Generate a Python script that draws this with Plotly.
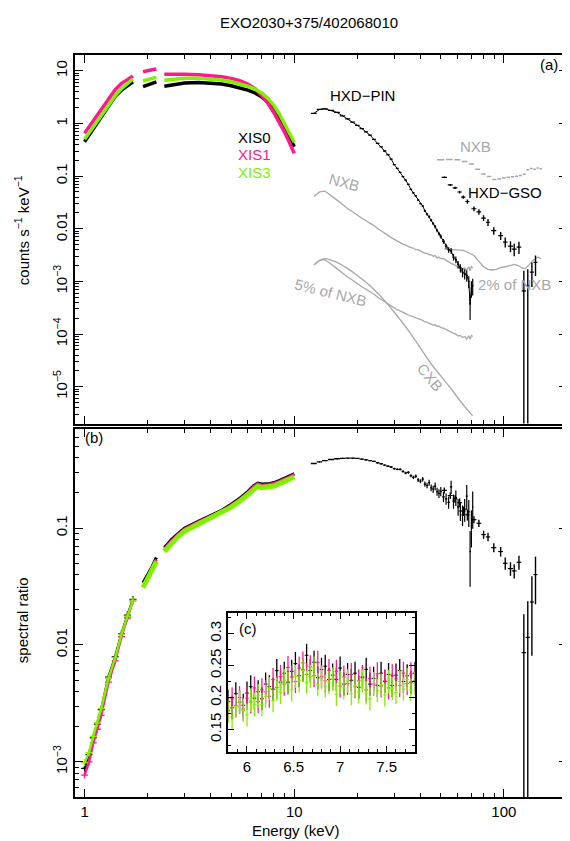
import numpy as np
import plotly.graph_objects as go

# ---------------- data ----------------
# XIS spectra, counts s^-1 keV^-1
XIS_E1 = [1.0, 1.05, 1.1, 1.15, 1.2, 1.3, 1.4, 1.5, 1.6, 1.7]
XIS0_F1 = [0.45, 0.6, 0.8, 1.05, 1.3, 2.1, 3.3, 4.3, 5.3, 6.2]
XIS1_F1 = [0.65, 0.85, 1.1, 1.45, 1.85, 2.9, 4.4, 5.8, 6.8, 8.0]
XIS3_F1 = [0.5, 0.65, 0.85, 1.1, 1.4, 2.2, 3.4, 4.6, 5.6, 7.0]
XIS_E2 = [1.9, 2.0, 2.1, 2.2]
XIS0_F2 = [5.0, 5.4, 5.8, 6.2]
XIS1_F2 = [9.6, 10.2, 10.5, 10.8]
XIS3_F2 = [6.4, 6.9, 7.2, 7.6]
XIS_E3 = [2.4, 2.6, 2.8, 3.0, 3.5, 4.0, 4.5, 5.0, 5.5, 6.0, 6.5, 7.0, 7.5, 8.0, 8.5, 9.0, 9.5, 10.0]
XIS0_F3 = [5.1, 5.4, 5.7, 5.9, 6.0, 5.9, 5.6, 5.2, 4.8, 4.3, 3.8, 3.2, 2.5, 1.8, 1.2, 0.82, 0.55, 0.36]
XIS1_F3 = [8.6, 8.7, 8.7, 8.6, 8.4, 8.1, 7.7, 7.2, 6.5, 5.6, 4.6, 3.4, 2.4, 1.6, 1.05, 0.68, 0.43, 0.27]
XIS3_F3 = [6.6, 6.9, 7.1, 7.2, 7.2, 7.0, 6.7, 6.2, 5.7, 5.1, 4.5, 3.8, 3.0, 2.2, 1.5, 1.0, 0.66, 0.44]

# XIS spectral ratios
XIS0_R1 = [8.8e-4, 1.15e-3, 1.6e-3, 2.1e-3, 2.8e-3, 5.3e-3, 7.9e-3, 0.0125, 0.018, 0.0245]
XIS1_R1 = [7.7e-4, 1.0e-3, 1.45e-3, 1.9e-3, 2.5e-3, 4.8e-3, 7.3e-3, 0.0118, 0.017, 0.0238]
XIS3_R1 = [9.8e-4, 1.2e-3, 1.65e-3, 2.15e-3, 2.85e-3, 5.2e-3, 7.8e-3, 0.0124, 0.0176, 0.0242]
XIS0_R2 = [0.034, 0.040, 0.047, 0.056]
XIS1_R2 = [0.032, 0.038, 0.045, 0.054]
XIS3_R2 = [0.031, 0.037, 0.044, 0.052]
XIS_RE3 = [2.4, 2.6, 2.8, 3.0, 3.5, 4.0, 4.5, 5.0, 5.5, 6.0, 6.4, 6.7, 7.0, 7.5, 8.0, 8.5, 9.0, 9.5, 10.0]
XIS0_R3 = [0.068, 0.080, 0.090, 0.100, 0.115, 0.128, 0.142, 0.160, 0.180, 0.205, 0.230, 0.243, 0.238, 0.239, 0.245, 0.256, 0.266, 0.280, 0.292]
XIS1_R3 = [0.066, 0.078, 0.088, 0.098, 0.113, 0.126, 0.139, 0.157, 0.176, 0.200, 0.226, 0.239, 0.233, 0.235, 0.241, 0.251, 0.261, 0.274, 0.286]
XIS3_R3 = [0.063, 0.075, 0.085, 0.094, 0.108, 0.121, 0.134, 0.151, 0.170, 0.193, 0.217, 0.228, 0.222, 0.223, 0.229, 0.240, 0.250, 0.262, 0.274]

# HXD-PIN
PIN_E = [12.4, 13.2, 14.0, 15.0, 16.0, 17.0, 18.0, 19.0, 20.0, 21.0, 22.0, 23.0, 24.0, 25.0,
         26.0, 27.0, 28.0, 29.0, 30.0, 31.0, 32.0, 33.0, 34.0, 35.0, 36.0, 37.0, 38.0, 39.0,
         40.0, 41.0, 42.0, 43.0, 44.0, 45.0, 46.0, 47.0, 48.0, 49.0, 50.0, 51.5, 53.0, 54.5,
         56.0, 57.5, 59.0, 60.5, 62.0, 63.5, 65.0, 66.5, 68.0, 69.0, 70.0, 71.0]
PIN_FLUX = [1.55, 1.85, 1.90, 1.78, 1.62, 1.40, 1.22, 1.06, 0.92, 0.80, 0.69, 0.60, 0.50, 0.42,
            0.36, 0.30, 0.255, 0.21, 0.165, 0.14, 0.118, 0.098, 0.084, 0.070, 0.056, 0.048, 0.042, 0.035,
            0.030, 0.027, 0.022, 0.019, 0.017, 0.0145, 0.0125, 0.011, 0.0093, 0.0081, 0.0072, 0.0058, 0.0047, 0.0040,
            0.0038, 0.0029, 0.0026, 0.0021, 0.0018, 0.0015, 0.0014, 0.0013, 0.0010, 0.00037, 0.00075, 0.00083]
PIN_RATIO = [0.357, 0.368, 0.378, 0.386, 0.392, 0.395, 0.396, 0.396, 0.394, 0.389, 0.384, 0.378, 0.372, 0.362,
             0.355, 0.345, 0.338, 0.333, 0.322, 0.318, 0.318, 0.305, 0.296, 0.300, 0.281, 0.272, 0.278, 0.258,
             0.252, 0.262, 0.238, 0.232, 0.245, 0.221, 0.215, 0.228, 0.205, 0.198, 0.206, 0.185, 0.178, 0.166,
             0.225, 0.170, 0.182, 0.152, 0.140, 0.130, 0.145, 0.188, 0.138, 0.063, 0.105, 0.152]
PIN_RELERR = [0.01, 0.01, 0.01, 0.01, 0.01, 0.01, 0.01, 0.01, 0.01, 0.01, 0.012, 0.012, 0.012, 0.014,
              0.014, 0.016, 0.016, 0.018, 0.02, 0.02, 0.022, 0.025, 0.025, 0.028, 0.03, 0.032, 0.035, 0.038,
              0.04, 0.045, 0.05, 0.055, 0.06, 0.065, 0.07, 0.075, 0.08, 0.085, 0.09, 0.1, 0.11, 0.12,
              0.13, 0.14, 0.15, 0.16, 0.18, 0.2, 0.22, 0.24, 0.26, 0.5, 0.35, 0.35]
PIN_NXB = [0.041, 0.050, 0.052, 0.043, 0.035, 0.029, 0.024, 0.021, 0.018, 0.0158, 0.0142, 0.0128, 0.0115, 0.0101,
           0.0092, 0.0082, 0.0075, 0.0068, 0.0063, 0.0058, 0.0055, 0.0051, 0.0049, 0.0046, 0.0044, 0.0043, 0.0040, 0.0040,
           0.0038, 0.0037, 0.0034, 0.0034, 0.0032, 0.0032, 0.0030, 0.0031, 0.0028, 0.0029, 0.0027, 0.0027, 0.0025, 0.0024,
           0.0022, 0.0021, 0.0020, 0.0018, 0.0019, 0.0017, 0.0018, 0.0016, 0.0019, 0.0016, 0.0019, 0.0018]
PIN_NXB5 = [0.00205, 0.0025, 0.0026, 0.00215, 0.00175, 0.00145, 0.0012, 0.00105, 0.0009, 0.00079, 0.00071, 0.00064, 0.00057, 0.0005,
            0.00046, 0.00041, 0.000375, 0.00034, 0.000315, 0.00029, 0.000275, 0.000255, 0.000245, 0.00023, 0.00022, 0.000212, 0.0002, 0.000198,
            0.00019, 0.000182, 0.00017, 0.000168, 0.00016, 0.000155, 0.000148, 0.00015, 0.00014, 0.000142, 0.000133, 0.00013, 0.000122, 0.000118,
            0.00011, 0.000103, 0.0001, 0.000092, 0.000094, 0.000086, 0.00009, 0.00008, 0.000093, 0.00008, 0.000094, 0.00009]
CXB_E = [12.5, 13.2, 14, 15, 16, 18, 20, 22, 24, 27, 30, 35, 40, 45, 50, 55, 60, 65, 71]
CXB = [2.1e-3, 2.5e-3, 2.7e-3, 2.55e-3, 2.3e-3, 1.75e-3, 1.3e-3, 9.6e-4, 7.0e-4, 4.3e-4, 2.6e-4, 1.17e-4,
       5.4e-5, 2.7e-5, 1.6e-5, 1.0e-5, 6.3e-6, 4.2e-6, 2.8e-6]

# HXD-GSO
GSO_E = [52, 55.5, 58.5, 61.5, 64, 67, 72, 76, 80, 84, 89.5, 96.5, 101.5, 107.5, 112, 118, 124.5, 130, 136, 141.5]
GSO_DE = [1.5, 1.5, 1.5, 1.5, 1.5, 1.5, 2, 2, 2, 2, 2.5, 2.5, 2.5, 3, 3, 3, 3, 3, 3, 3]
GSO_FLUX = [0.095, 0.068, 0.060, 0.050, 0.040, 0.033, 0.024, 0.021, 0.016, 0.0133, 0.0092, 0.0074, 0.0056, 0.0047,
            0.0041, 0.0045, 0.00066, 0.00083, 0.0015, 0.0023]
GSO_FLUX_UP = [0.003, 0.003, 0.003, 0.003, 0.003, 0.003, 0.0025, 0.0025, 0.002, 0.002, 0.0015, 0.0013, 0.0012, 0.0011,
               0.0011, 0.0012, 0.00094, 0.00087, 0.0008, 0.0008]
GSO_FLUX_DN = [0.003, 0.003, 0.003, 0.003, 0.003, 0.003, 0.0025, 0.0025, 0.002, 0.002, 0.0015, 0.0013, 0.0012, 0.0011,
               0.0011, 0.0012, 0.0006599, 0.0008299, 0.00072, 0.00103]
GSO_RATIO = [0.21, 0.19, 0.178, 0.165, 0.14, 0.13, 0.118, 0.110, 0.088, 0.084, 0.068, 0.063, 0.050, 0.045,
             0.043, 0.051, 0.0086, 0.0116, 0.0233, 0.040]
GSO_RATIO_UP = [0.012, 0.012, 0.013, 0.014, 0.013, 0.014, 0.008, 0.008, 0.007, 0.007, 0.006, 0.006, 0.006, 0.006,
                0.006, 0.007, 0.0097, 0.0121, 0.0154, 0.017]
GSO_RATIO_DN = [0.012, 0.012, 0.013, 0.014, 0.013, 0.014, 0.008, 0.008, 0.007, 0.007, 0.006, 0.006, 0.006, 0.006,
                0.006, 0.007, 0.0085999, 0.0115999, 0.0152, 0.0177]
GSO_NXB_E = [50, 55, 60, 65, 70, 75, 80, 85, 90, 95, 100, 105, 110, 115, 120, 125, 130, 135, 140, 145, 150]
GSO_NXB = [0.205, 0.208, 0.205, 0.19, 0.17, 0.135, 0.11, 0.098, 0.086, 0.088, 0.092, 0.095, 0.097, 0.100,
           0.103, 0.108, 0.132, 0.14, 0.135, 0.142, 0.138]
GSO_NXB2_E = [52, 56, 60, 64, 68, 72, 76, 80, 84, 88, 92, 97, 102, 107, 112, 117, 122, 126, 131, 136, 141, 146, 150]
GSO_NXB2 = [4.1e-3, 4.05e-3, 4.0e-3, 3.9e-3, 3.5e-3, 3.1e-3, 2.4e-3, 1.9e-3, 1.7e-3, 1.65e-3, 1.7e-3, 1.85e-3,
            1.9e-3, 2.0e-3, 2.1e-3, 2.0e-3, 1.8e-3, 1.75e-3, 2.0e-3, 2.4e-3, 2.7e-3, 2.9e-3, 2.7e-3]

# inset (c): XIS ratio 5.8-7.8 keV
INS_E = [5.80, 5.84, 5.88, 5.92, 5.96, 6.00, 6.04, 6.08, 6.12, 6.16, 6.20, 6.24, 6.28, 6.32, 6.36, 6.40, 6.44,
         6.48, 6.52, 6.56, 6.60, 6.64, 6.68, 6.72, 6.76, 6.80, 6.84, 6.88, 6.92, 6.96, 7.00, 7.04, 7.08, 7.12,
         7.16, 7.20, 7.24, 7.28, 7.32, 7.36, 7.40, 7.44, 7.48, 7.52, 7.56, 7.60, 7.64, 7.68, 7.72, 7.76, 7.80]
INS_XIS0 = [0.194, 0.184, 0.206, 0.193, 0.188, 0.207, 0.217, 0.199, 0.209, 0.198, 0.221, 0.217, 0.213, 0.242, 0.224, 0.238, 0.224,
            0.241, 0.253, 0.234, 0.243, 0.266, 0.242, 0.255, 0.231, 0.244, 0.249, 0.228, 0.235, 0.228, 0.246, 0.221, 0.236, 0.227,
            0.238, 0.216, 0.231, 0.244, 0.221, 0.230, 0.219, 0.238, 0.225, 0.236, 0.219, 0.235, 0.242, 0.225, 0.234, 0.224, 0.238]
INS_XIS1 = [0.180, 0.198, 0.188, 0.200, 0.182, 0.199, 0.193, 0.215, 0.194, 0.212, 0.209, 0.202, 0.228, 0.216, 0.233, 0.221, 0.247,
            0.232, 0.225, 0.246, 0.254, 0.236, 0.248, 0.234, 0.255, 0.233, 0.226, 0.242, 0.229, 0.241, 0.218, 0.232, 0.222, 0.236,
            0.217, 0.226, 0.233, 0.212, 0.230, 0.221, 0.237, 0.218, 0.226, 0.215, 0.234, 0.229, 0.219, 0.238, 0.222, 0.237, 0.226]
INS_XIS3 = [0.178, 0.169, 0.186, 0.193, 0.180, 0.173, 0.196, 0.189, 0.203, 0.189, 0.202, 0.214, 0.195, 0.213, 0.208, 0.227, 0.222,
            0.212, 0.233, 0.226, 0.242, 0.224, 0.233, 0.246, 0.220, 0.231, 0.218, 0.224, 0.229, 0.205, 0.224, 0.215, 0.226, 0.206,
            0.218, 0.209, 0.226, 0.207, 0.198, 0.222, 0.211, 0.220, 0.204, 0.225, 0.214, 0.208, 0.225, 0.213, 0.228, 0.212, 0.222]

# ---------------- styling ----------------
BLACK = "#000000"
PINK = "#ff1a8c"
GREEN = "#80f000"
GRAY = "#a8a8a8"
FONT = "Liberation Sans, Arial, Helvetica, sans-serif"

OFF = 8                     # page offset of the figure inside the browser body
W, H = 562, 833
ML, MR, MT, MB = 75 - OFF, 1, 55 - OFF, 44
PW, PH = W - ML - MR, H - MT - MB


def P(x, y):
    """page pixel -> paper coordinate"""
    return (x - OFF - ML) / PW, (H - MB - (y - OFF)) / PH


fig = go.Figure()

# ---- top panel ----
for E, arrs in [(XIS_E1, (XIS0_F1, XIS1_F1, XIS3_F1)),
                (XIS_E2, (XIS0_F2, XIS1_F2, XIS3_F2)),
                (XIS_E3, (XIS0_F3, XIS1_F3, XIS3_F3))]:
    for vals, col in zip(arrs, (BLACK, PINK, GREEN)):
        fig.add_trace(go.Scatter(x=E, y=vals, mode="lines", line=dict(color=col, width=3.5),
                                 xaxis="x", yaxis="y", hoverinfo="skip"))

fig.add_trace(go.Scatter(x=PIN_E, y=PIN_NXB, mode="lines", line=dict(color=GRAY, width=1.3),
                         xaxis="x", yaxis="y"))
fig.add_trace(go.Scatter(x=PIN_E, y=PIN_NXB5, mode="lines", line=dict(color=GRAY, width=1.3),
                         xaxis="x", yaxis="y"))
fig.add_trace(go.Scatter(x=CXB_E, y=CXB, mode="lines", line=dict(color=GRAY, width=1.3, shape="spline"),
                         xaxis="x", yaxis="y"))
fig.add_trace(go.Scatter(x=GSO_NXB_E, y=GSO_NXB, mode="markers", marker=dict(size=1, color=GRAY),
                         error_x=dict(type="constant", value=2.0, width=0, thickness=1.5, color=GRAY),
                         xaxis="x", yaxis="y"))
fig.add_trace(go.Scatter(x=GSO_NXB2_E, y=GSO_NXB2, mode="lines", line=dict(color=GRAY, width=1.3),
                         xaxis="x", yaxis="y"))

pin_dE = np.gradient(np.array(PIN_E)) / 2
pin_err = np.array(PIN_FLUX) * np.array(PIN_RELERR)
fig.add_trace(go.Scatter(x=PIN_E, y=PIN_FLUX, mode="lines", line=dict(color=BLACK, width=1.0),
                         error_x=dict(type="data", array=pin_dE, width=0, thickness=1.3, color=BLACK),
                         error_y=dict(type="data", array=pin_err, width=0, thickness=1.2, color=BLACK),
                         xaxis="x", yaxis="y"))
fig.add_trace(go.Scatter(x=GSO_E, y=GSO_FLUX, mode="markers", marker=dict(size=1, color=BLACK),
                         error_x=dict(type="data", array=GSO_DE, width=0, thickness=1.2, color=BLACK),
                         error_y=dict(type="data", array=GSO_FLUX_UP, arrayminus=GSO_FLUX_DN, symmetric=False,
                                      width=0, thickness=1.4, color=BLACK),
                         xaxis="x", yaxis="y"))

# ---- bottom panel ----
for vals, col in zip((XIS0_R1, XIS1_R1, XIS3_R1), (BLACK, PINK, GREEN)):
    fig.add_trace(go.Scatter(x=XIS_E1, y=vals, mode="lines+markers", line=dict(color=col, width=2.5),
                             marker=dict(symbol="cross-thin", size=5, line=dict(width=1.3, color=col)),
                             xaxis="x2", yaxis="y2"))
for E, arrs in [(XIS_E2, (XIS0_R2, XIS1_R2, XIS3_R2)), (XIS_RE3, (XIS0_R3, XIS1_R3, XIS3_R3))]:
    for vals, col, w in zip(arrs, (BLACK, PINK, GREEN), (3, 3, 5)):
        fig.add_trace(go.Scatter(x=E, y=vals, mode="lines", line=dict(color=col, width=w),
                                 xaxis="x2", yaxis="y2"))

fig.add_trace(go.Scatter(x=PIN_E, y=PIN_RATIO, mode="markers", marker=dict(size=1, color=BLACK),
                         error_x=dict(type="data", array=pin_dE, width=0, thickness=1.3, color=BLACK),
                         error_y=dict(type="data", array=np.array(PIN_RATIO) * np.array(PIN_RELERR),
                                      width=0, thickness=1.2, color=BLACK),
                         xaxis="x2", yaxis="y2"))
fig.add_trace(go.Scatter(x=GSO_E, y=GSO_RATIO, mode="markers", marker=dict(size=1, color=BLACK),
                         error_x=dict(type="data", array=GSO_DE, width=0, thickness=1.2, color=BLACK),
                         error_y=dict(type="data", array=GSO_RATIO_UP, arrayminus=GSO_RATIO_DN, symmetric=False,
                                      width=0, thickness=1.4, color=BLACK),
                         xaxis="x2", yaxis="y2"))

# ---- inset ----
for vals, col in zip((INS_XIS0, INS_XIS1, INS_XIS3), (BLACK, PINK, GREEN)):
    fig.add_trace(go.Scatter(x=INS_E, y=vals, mode="markers", marker=dict(size=1, color=col),
                             error_x=dict(type="constant", value=0.02, width=0, thickness=1, color=col),
                             error_y=dict(type="constant", value=0.018, width=0, thickness=1.3, color=col),
                             xaxis="x3", yaxis="y3"))


# ---------------- axes ----------------
def log_minor(lo, hi):
    out = []
    for d in range(lo, hi + 1):
        for m in range(2, 10):
            out.append(m * 10.0 ** d)
    return out


common = dict(showgrid=False, zeroline=False, showline=True, linecolor="black", linewidth=1.5,
              ticks="inside", tickcolor="black", tickwidth=1.2, mirror="allticks",
              tickfont=dict(family=FONT, size=15, color="black"))

xlog = dict(type="log", range=[np.log10(0.9), np.log10(200)], tickvals=[1, 10, 100],
            ticktext=["1", "10", "100"], ticklen=8,
            minor=dict(tickmode="array", tickvals=log_minor(0, 2), ticks="inside", ticklen=4,
                       tickwidth=1, tickcolor="black", showgrid=False))

top_lo = P(0, 423.5)[1]
bot_hi = P(0, 429.3)[1]

fig.update_layout(
    xaxis=dict(**common, **xlog, domain=[0, 1], anchor="y", showticklabels=False),
    yaxis=dict(**common, type="log", range=[np.log10(2e-6), np.log10(20)], domain=[top_lo, 1.0], anchor="x",
               tickvals=[1e-5, 1e-4, 1e-3, 0.01, 0.1, 1, 10],
               ticktext=["10<sup>−5</sup>", "10<sup>−4</sup>", "10<sup>−3</sup>", "0.01", "0.1", "1", "10"],
               tickangle=-90, ticklen=8,
               minor=dict(tickmode="array", tickvals=log_minor(-6, 1), ticks="inside", ticklen=4,
                          tickwidth=1, tickcolor="black", showgrid=False)),
    xaxis2=dict(**common, **xlog, domain=[0, 1], anchor="y2"),
    yaxis2=dict(**common, type="log", range=[np.log10(5e-4), np.log10(0.7)], domain=[0.0, bot_hi], anchor="x2",
                tickvals=[1e-3, 0.01, 0.1], ticktext=["10<sup>−3</sup>", "0.01", "0.1"],
                tickangle=-90, ticklen=8,
                minor=dict(tickmode="array", tickvals=log_minor(-4, -1), ticks="inside", ticklen=4,
                           tickwidth=1, tickcolor="black", showgrid=False)),
    xaxis3=dict(**common, range=[5.8, 7.8], domain=[P(229, 0)[0], P(416, 0)[0]], anchor="y3",
                tickvals=[6, 6.5, 7, 7.5], ticktext=["6", "6.5", "7", "7.5"], ticklen=6,
                minor=dict(dtick=0.1, tick0=5.8, ticks="inside", ticklen=3, tickwidth=1,
                           tickcolor="black", showgrid=False)),
    yaxis3=dict(**common, range=[0.115, 0.332], domain=[P(0, 752)[1], P(0, 613)[1]], anchor="x3",
                tickvals=[0.15, 0.2, 0.25, 0.3], ticktext=["0.15", "0.2", "0.25", "0.3"],
                tickangle=-90, ticklen=6,
                minor=dict(dtick=0.025, tick0=0.1, ticks="inside", ticklen=3, tickwidth=1,
                           tickcolor="black", showgrid=False)),
)


# ---------------- text ----------------
def note(x, y, text, color="black", size=15, xanchor="left", angle=0, yanchor="middle"):
    px_, py_ = P(x, y)
    fig.add_annotation(x=px_, y=py_, xref="paper", yref="paper", text=text, showarrow=False,
                       xanchor=xanchor, yanchor=yanchor, textangle=angle,
                       font=dict(family=FONT, size=size, color=color))


note(310, 22, "EXO2030+375/402068010", xanchor="center")
note(237, 137, "XIS0")
note(237, 154.5, "XIS1", color=PINK)
note(237, 172.5, "XIS3", color=GREEN)
note(329, 95.5, "HXD−PIN")
note(460, 146.5, "NXB", color=GRAY)
note(468, 192.5, "HXD−GSO")
note(346, 182, "NXB", color=GRAY, xanchor="center", angle=15)
note(332, 292, "5% of NXB", color=GRAY, xanchor="center", angle=14)
note(432, 377, "CXB", color=GRAY, xanchor="center", angle=50)
note(478, 284.5, "2% of NXB", color=GRAY)
note(562, 64, "(a)", xanchor="right")
note(83, 437, "(b)")
note(238, 628, "(c)")
note(297, 830, "Energy (keV)", xanchor="center")
note(22, 230, "counts s<sup>−1</sup> keV<sup>−1</sup>", xanchor="center", angle=-90)
note(22, 620, "spectral ratio", xanchor="center", angle=-90)

fig.update_layout(width=W, height=H, margin=dict(l=ML, r=MR, t=MT, b=MB),
                  plot_bgcolor="white", paper_bgcolor="white", showlegend=False,
                  font=dict(family=FONT, size=15, color="black"))

fig.write_html("out.html")
